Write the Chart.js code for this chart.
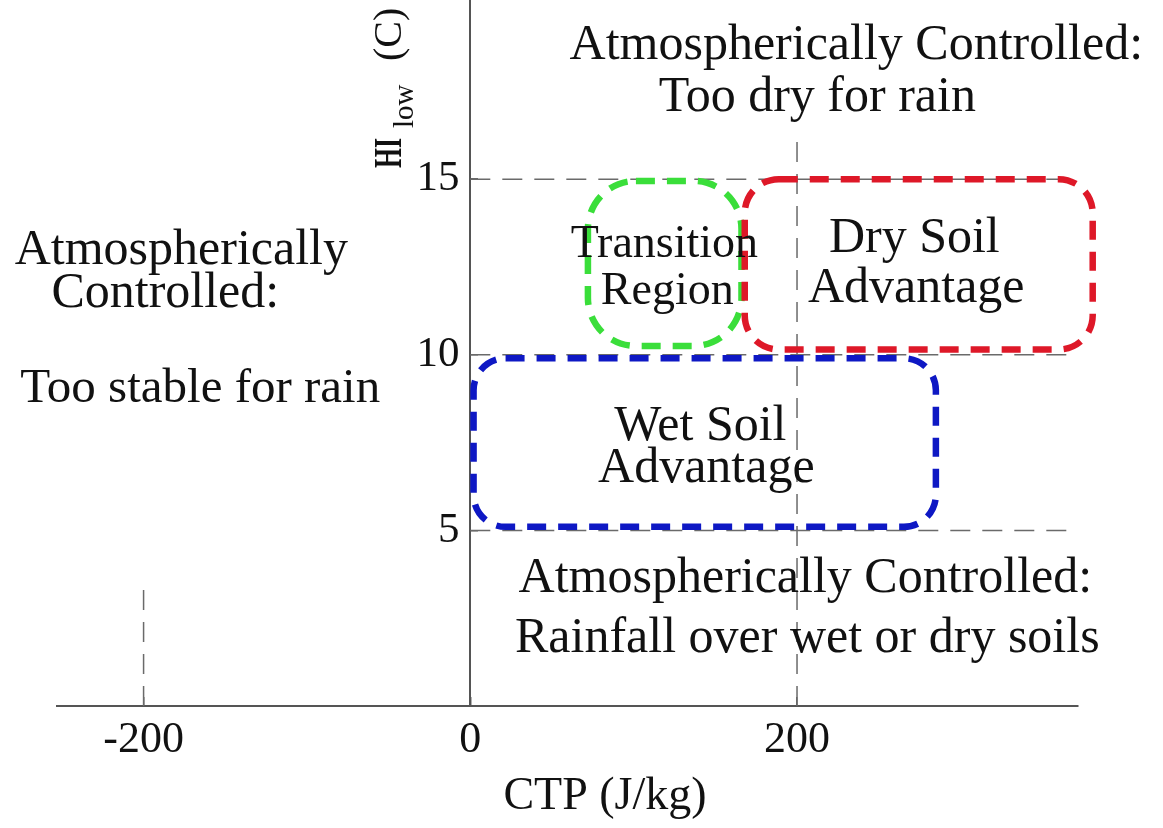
<!DOCTYPE html>
<html>
<head>
<meta charset="utf-8">
<script src="https://cdn.jsdelivr.net/npm/chart.js@4.4.1/dist/chart.umd.min.js"></script>
<style>
  html, body { margin: 0; padding: 0; background: #fff; }
  canvas { display: block; }
</style>
</head>
<body>
<canvas id="regime-chart" width="1163" height="828"></canvas>
<script>
// axis ticks
const ctpTicks = [-200, 0, 200];
const hiTicks = [5, 10, 15];

// dashed guide lines (CTP, HIlow)
const guideCtpFrom = [0, 0, 0, 200, -200];
const guideCtpTo = [372, 372, 372, 200, -200];
const guideHiFrom = [5, 10, 15, 0, 0];
const guideHiTo = [5, 10, 15, 16.4, 3.4];

// regime boxes
const regionNames = ["Transition Region", "Dry Soil Advantage", "Wet Soil Advantage"];
const regionCtpMin = [72, 168, 2];
const regionCtpMax = [166, 381, 285];
const regionHiMin = [10.25, 10.15, 5.1];
const regionHiMax = [14.95, 15, 9.9];

// text labels, placed in data coordinates
const noteText = [
  "Atmospherically Controlled:", "Too dry for rain",
  "Atmospherically", "Controlled:", "Too stable for rain",
  "Transition", "Region", "Dry Soil", "Advantage", "Wet Soil", "Advantage",
  "Atmospherically Controlled:", "Rainfall over wet or dry soils",
];
const noteCtp = [236.3, 212.4, -176.9, -186.7, -165.3, 118.8, 120.6, 271.8, 273.0, 140.8, 144.5, 205.1, 206.3];
const noteHi = [18.8, 17.3, 12.97, 11.73, 9.01, 13.14, 11.78, 13.29, 11.87, 7.96, 6.74, 3.63, 1.9];

const FONT = '"Liberation Serif", "Times New Roman", serif';
const regionColors = ["rgb(58, 222, 58)", "rgb(222, 24, 40)", "rgb(14, 24, 196)"];
const regionRadius = [48, 34, 32];
const noteSize = [50, 50, 50, 50, 49, 46, 46, 50, 50, 50, 50, 50, 50];

function roundBox(ctx, x, y, w, h, r) {
  ctx.beginPath();
  ctx.moveTo(x + r, y);
  ctx.arcTo(x + w, y, x + w, y + h, r);
  ctx.arcTo(x + w, y + h, x, y + h, r);
  ctx.arcTo(x, y + h, x, y, r);
  ctx.arcTo(x, y, x + w, y, r);
  ctx.closePath();
}

const regionPlugin = {
  id: "regions",
  afterDatasetsDraw(chart) {
    const { ctx } = chart;
    const xs = chart.scales.x;
    const ys = chart.scales.y;
    ctx.save();
    ctx.lineWidth = 6.5;
    ctx.setLineDash([19, 12]);
    regionNames.forEach((name, i) => {
      const x0 = xs.getPixelForValue(regionCtpMin[i]);
      const x1 = xs.getPixelForValue(regionCtpMax[i]);
      const y0 = ys.getPixelForValue(regionHiMax[i]);
      const y1 = ys.getPixelForValue(regionHiMin[i]);
      ctx.strokeStyle = regionColors[i];
      roundBox(ctx, x0, y0, x1 - x0, y1 - y0, regionRadius[i]);
      ctx.stroke();
    });
    ctx.restore();
  },
};

const textPlugin = {
  id: "notes",
  afterDraw(chart) {
    const { ctx } = chart;
    const xs = chart.scales.x;
    const ys = chart.scales.y;
    ctx.save();
    ctx.fillStyle = "#111";
    ctx.textAlign = "center";
    ctx.textBaseline = "middle";
    noteText.forEach((t, i) => {
      ctx.font = noteSize[i] + "px " + FONT;
      ctx.fillText(t, xs.getPixelForValue(noteCtp[i]), ys.getPixelForValue(noteHi[i]));
    });

    // x axis title
    ctx.font = "46px " + FONT;
    ctx.fillText("CTP (J/kg)", 605, 797);

    // y axis title with subscript, rotated
    ctx.translate(401, 168);
    ctx.rotate(-Math.PI / 2);
    ctx.textAlign = "left";
    ctx.textBaseline = "alphabetic";
    ctx.font = "bold 41px " + FONT;
    const hiW = ctx.measureText("HI").width;
    ctx.save();
    ctx.scale(30 / hiW, 1);
    ctx.fillText("HI", 0, 0);
    ctx.restore();
    ctx.font = "29px " + FONT;
    ctx.fillText("low", 40, 12);
    ctx.font = "40px " + FONT;
    ctx.fillText("(C)", 107, 0);
    ctx.restore();
  },
};

const guideSets = guideCtpFrom.map((x0, i) => ({
  data: [
    { x: x0, y: guideHiFrom[i] },
    { x: guideCtpTo[i], y: guideHiTo[i] },
  ],
  borderColor: "#6a6a6a",
  borderWidth: 1.5,
  borderDash: [20, 12],
  pointRadius: 0,
  showLine: true,
}));

new Chart(document.getElementById("regime-chart"), {
  type: "scatter",
  data: { datasets: guideSets },
  options: {
    responsive: false,
    animation: false,
    layout: { padding: { left: 57, right: 85, top: 0, bottom: 0 } },
    plugins: {
      legend: { display: false },
      tooltip: { enabled: false },
    },
    scales: {
      x: {
        type: "linear",
        min: -253,
        max: 372,
        position: "bottom",
        afterBuildTicks: (s) => { s.ticks = ctpTicks.map((v) => ({ value: v })); },
        afterFit: (s) => { s.height = 122; },
        grid: { drawOnChartArea: false, tickLength: -9, color: "#666", lineWidth: 1.5 },
        border: { color: "#555", width: 2 },
        ticks: {
          font: { family: FONT, size: 44 },
          color: "#111",
          padding: 17,
          maxRotation: 0,
          autoSkip: false,
        },
      },
      y: {
        type: "linear",
        min: 0,
        max: 20.1,
        position: { x: 0 },
        afterBuildTicks: (s) => { s.ticks = hiTicks.map((v) => ({ value: v })); },
        afterFit: (s) => { s.paddingTop = 0; s.paddingBottom = 0; },
        grid: { drawOnChartArea: false, tickLength: -9, color: "#666", lineWidth: 1.5 },
        border: { color: "#555", width: 2 },
        ticks: {
          font: { family: FONT, size: 43 },
          color: "#111",
          autoSkip: false,
          callback: (v) => v + " ",
        },
      },
    },
  },
  plugins: [regionPlugin, textPlugin],
});
</script>
</body>
</html>
